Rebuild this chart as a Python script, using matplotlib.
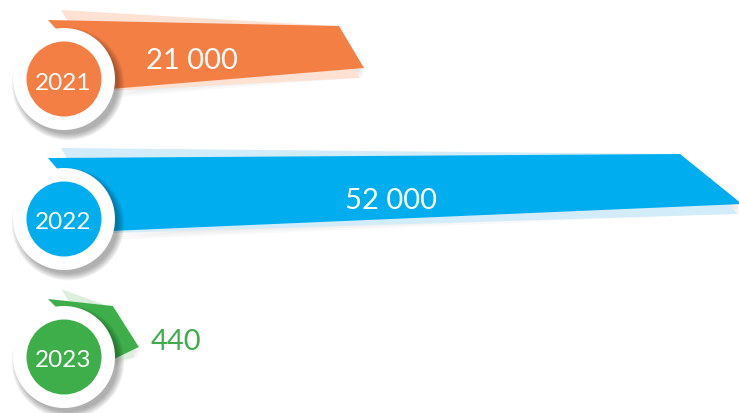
import matplotlib.pyplot as plt
from matplotlib.patches import Polygon, Circle

# data
years = ['2021', '2022', '2023']
values = [21000, 52000, 440]
labels = ['21 000', '52 000', '440']

# styles
colors = ['#F47F45', '#00AEEF', '#3DAE4A']
light_colors = ['#FDE2D3', '#D3ECF9', '#DCEFDC']
row_y = [80, 220, 358]
# per-row tweaks of the ribbon shape:
# (top-left dy, top-right dy, tip dx, tip dy, bottom-left dy, label dx)
shapes = [(-59, -53, 25, -11, 10, -14),
          (-61, -65, 62, -15, 12, -4),
          (-58, -51, 26, -10, 4, 0)]

plt.rcParams['font.family'] = ['Lato', 'DejaVu Sans']

fig = plt.figure(figsize=(7.39, 4.14), dpi=100)
ax = fig.add_axes([0, 0, 1, 1])
ax.set_xlim(0, 739)
ax.set_ylim(414, 0)
ax.axis('off')

x0 = 48
cx = 64
for i, (yr, val, lab) in enumerate(zip(years, values, labels)):
    cy = row_y[i]
    tl, tr, tdx, tdy, bl, ldx = shapes[i]
    xe = x0 + 60 + 0.011 * val
    tip = (xe + tdx, cy + tdy)
    main = [(x0, cy + tl), (xe, cy + tr), tip, (110, cy + bl)]
    light = [(x0 + 13, cy + tl - 10), (xe - 5, cy + tr), (tip[0] - 4, tip[1] + 10), (110, cy + bl + 2)]
    # soft shadow under the ribbon
    for k in range(4):
        sh = [(px, py + 3 + 2 * k) for px, py in main[1:]] + [(110, cy + bl + 3 + 2 * k)]
        ax.add_patch(Polygon(sh, closed=True, facecolor='#000000', alpha=0.025, lw=0, zorder=1))
    ax.add_patch(Polygon(light, closed=True, facecolor=light_colors[i], lw=0, zorder=2))
    ax.add_patch(Polygon(main, closed=True, facecolor=colors[i], lw=0, zorder=3))

    # circle with drop shadow
    for k in range(8):
        ax.add_patch(Circle((cx + 4, cy + 5), 50 + k * 0.9, facecolor='#000000',
                            alpha=0.045, lw=0, zorder=4))
    ax.add_patch(Circle((cx, cy), 51, facecolor='white', lw=0, zorder=5))
    ax.add_patch(Circle((cx, cy), 37.5, facecolor=colors[i], lw=0, zorder=6))
    ax.text(cx - 1, cy + 3, yr, color='white', fontsize=17.5, ha='center', va='center', zorder=7)

    # value label: inside the ribbon if it is long enough, else just after it
    if xe - x0 > 150:
        ax.text((x0 + tip[0]) / 2 + ldx, cy - 19, lab, color='white', fontsize=21,
                ha='center', va='center', zorder=7)
    else:
        ax.text(tip[0] + 12, cy - 16, lab, color=colors[i], fontsize=21,
                ha='left', va='center', zorder=7)

fig.savefig('out.png', dpi=100, facecolor='white')
